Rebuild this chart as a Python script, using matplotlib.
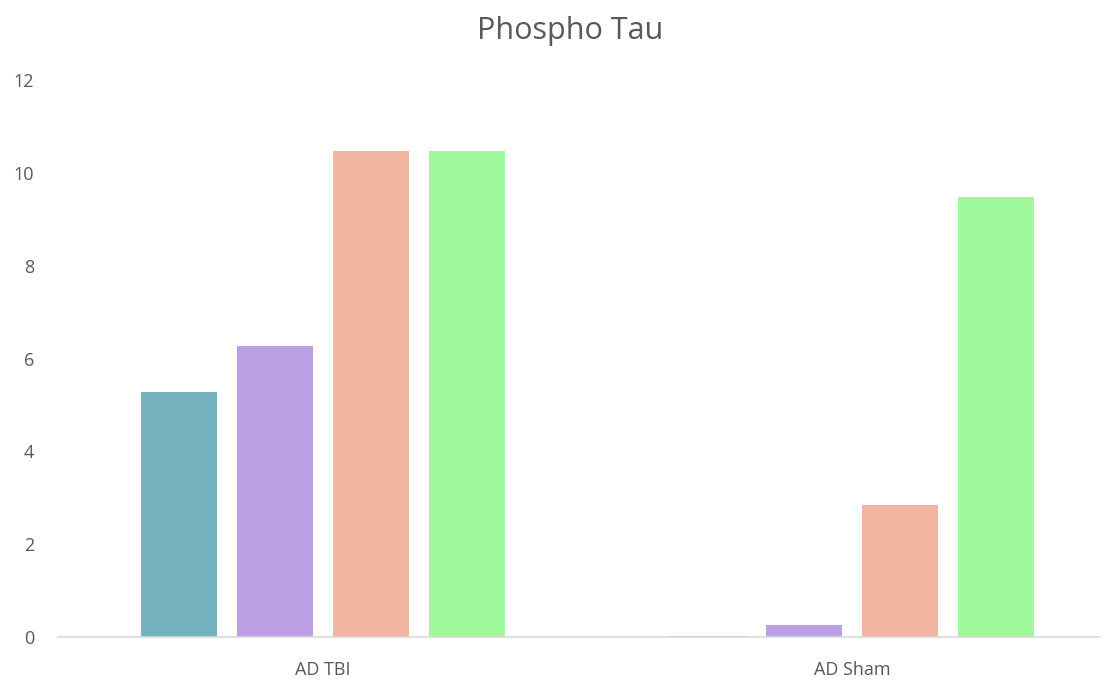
import numpy as np
import matplotlib
matplotlib.use("Agg")
import matplotlib.pyplot as plt

plt.rcParams['font.family'] = ['Open Sans', 'DejaVu Sans']

categories = ['AD TBI', 'AD Sham']
series_1 = [5.27, 0.02]
series_2 = [6.27, 0.25]
series_3 = [10.48, 2.85]
series_4 = [10.48, 9.48]
series = [series_1, series_2, series_3, series_4]
colors = ['#75B3C0', '#BCA0E3', '#F0B4A0', '#A0F89C']
yticks = [0, 2, 4, 6, 8, 10, 12]

fig = plt.figure(figsize=(11.09, 6.83), dpi=100)
# axes from x=58 to 1100 px, y=637 (0) to 80 (12)
ax = fig.add_axes([58 / 1109, (683 - 637) / 683, 1042 / 1109, 557 / 683])

x = np.arange(len(categories))
width = 0.1437
step = 0.1815
for i, vals in enumerate(series):
    ax.bar(x + (i - 1.5) * step, vals, width, color=colors[i], zorder=2)

ax.set_xlim(-0.501, 1.469)
ax.set_ylim(0, 12)
ax.set_yticks(yticks)
ax.set_xticks(x)
ax.set_xticklabels(categories)
ax.tick_params(axis='both', length=0, colors='#595959', labelsize=13)
ax.tick_params(axis='x', pad=17)
ax.tick_params(axis='y', pad=17)
for s in ['top', 'right', 'left']:
    ax.spines[s].set_visible(False)
ax.spines['bottom'].set_color('#D9D9D9')
ax.spines['bottom'].set_linewidth(1.2)

fig.text(0.514, 0.955, 'Phospho Tau', ha='center', va='center', fontsize=22, color='#595959')

fig.savefig('out.png', dpi=100)
